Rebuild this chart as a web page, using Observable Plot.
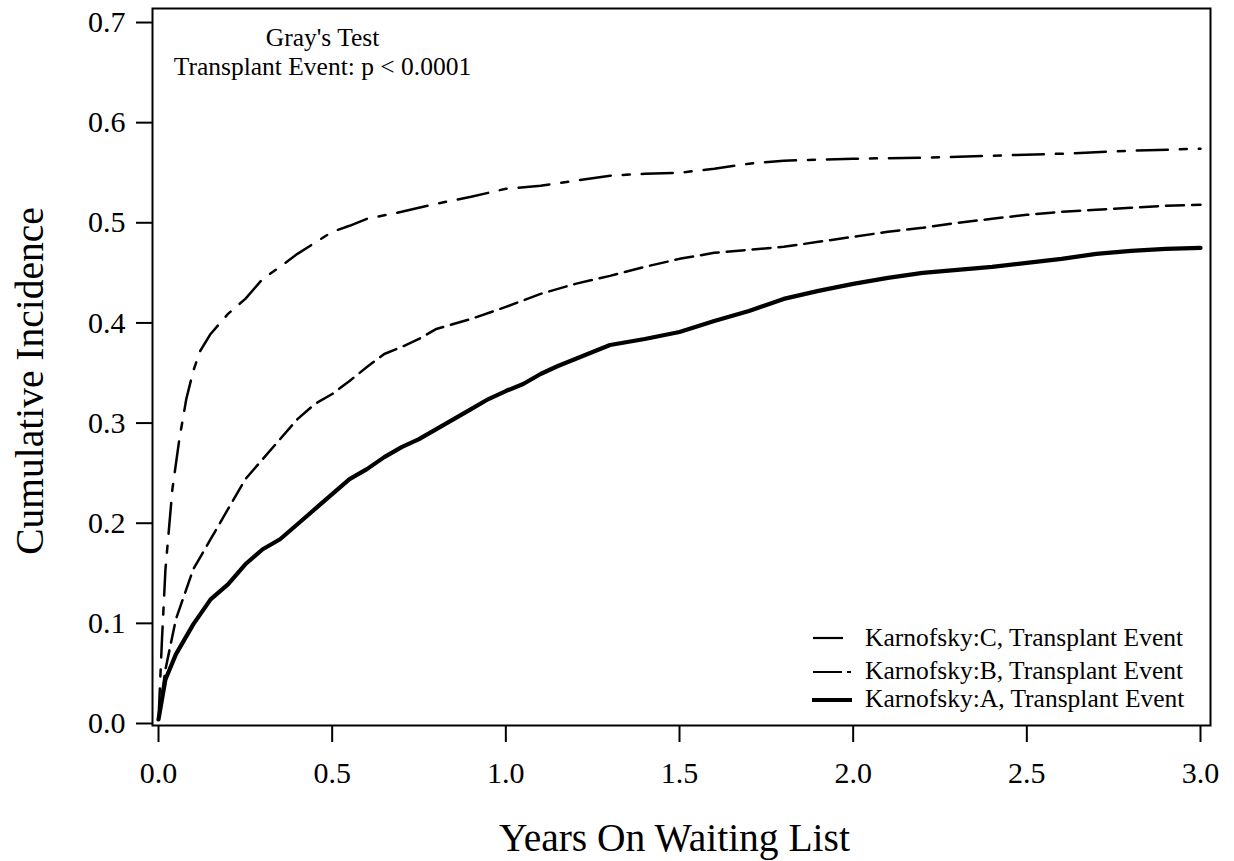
<!DOCTYPE html>
<html>
<head>
<meta charset="utf-8">
<script src="https://cdn.jsdelivr.net/npm/d3@7"></script>
<script src="https://cdn.jsdelivr.net/npm/@observablehq/plot@0.6"></script>
<style>
  html, body { margin: 0; padding: 0; background: #fff; }
  #chart { position: relative; width: 1234px; height: 861px; }
  svg { font-family: "Liberation Serif", "Times New Roman", serif; }
</style>
</head>
<body>
<div id="chart"></div>
<script>
// ---- Data ----
// Karnofsky:A (thick solid, lowest curve)
const yearsA = [0, 0.01, 0.02, 0.05, 0.1, 0.15, 0.2, 0.25, 0.3, 0.35, 0.4, 0.45, 0.5, 0.55, 0.6, 0.65, 0.7, 0.75, 0.8, 0.85, 0.9, 0.95, 1.0, 1.05, 1.1, 1.15, 1.2, 1.25, 1.3, 1.4, 1.5, 1.6, 1.7, 1.8, 1.9, 2.0, 2.1, 2.2, 2.3, 2.4, 2.5, 2.6, 2.7, 2.8, 2.9, 3.0];
const incidenceA = [0, 0.02, 0.04, 0.065, 0.095, 0.12, 0.135, 0.155, 0.17, 0.18, 0.195, 0.21, 0.225, 0.24, 0.25, 0.262, 0.272, 0.28, 0.29, 0.30, 0.31, 0.32, 0.328, 0.335, 0.345, 0.353, 0.36, 0.367, 0.374, 0.38, 0.387, 0.398, 0.408, 0.42, 0.428, 0.435, 0.441, 0.446, 0.449, 0.452, 0.456, 0.46, 0.465, 0.468, 0.47, 0.471];
// Karnofsky:B (dashed, middle curve)
const yearsB = [0, 0.02, 0.05, 0.1, 0.15, 0.2, 0.25, 0.3, 0.35, 0.4, 0.45, 0.5, 0.55, 0.6, 0.65, 0.7, 0.75, 0.8, 0.9, 1.0, 1.1, 1.2, 1.3, 1.4, 1.5, 1.6, 1.7, 1.8, 1.9, 2.0, 2.1, 2.2, 2.3, 2.4, 2.5, 2.6, 2.7, 2.8, 2.9, 3.0];
const incidenceB = [0, 0.05, 0.1, 0.15, 0.18, 0.21, 0.24, 0.26, 0.28, 0.30, 0.315, 0.325, 0.338, 0.352, 0.365, 0.372, 0.38, 0.39, 0.40, 0.412, 0.425, 0.435, 0.443, 0.452, 0.46, 0.466, 0.469, 0.472, 0.477, 0.482, 0.487, 0.491, 0.496, 0.50, 0.504, 0.507, 0.509, 0.511, 0.513, 0.514];
// Karnofsky:C (dash-dot, highest curve)
const yearsC = [0, 0.01, 0.02, 0.04, 0.06, 0.08, 0.1, 0.12, 0.15, 0.2, 0.25, 0.3, 0.35, 0.4, 0.45, 0.5, 0.55, 0.6, 0.7, 0.8, 0.9, 1.0, 1.1, 1.2, 1.3, 1.4, 1.5, 1.6, 1.7, 1.8, 2.0, 2.2, 2.4, 2.6, 2.8, 3.0];
const incidenceC = [0, 0.08, 0.15, 0.23, 0.28, 0.32, 0.348, 0.368, 0.385, 0.405, 0.42, 0.44, 0.452, 0.465, 0.476, 0.487, 0.493, 0.50, 0.507, 0.515, 0.522, 0.53, 0.533, 0.538, 0.543, 0.545, 0.546, 0.55, 0.555, 0.558, 0.56, 0.561, 0.563, 0.565, 0.568, 0.57];

const xTicks = [0, 0.5, 1.0, 1.5, 2.0, 2.5, 3.0];
const yTicks = [0, 0.1, 0.2, 0.3, 0.4, 0.5, 0.6, 0.7];
const seriesLabels = ["Karnofsky:C, Transplant Event", "Karnofsky:B, Transplant Event", "Karnofsky:A, Transplant Event"];
const annotationLines = ["Gray's Test", "Transplant Event: p < 0.0001"];
const xTitle = "Years On Waiting List";
const yTitle = "Cumulative Incidence";

const zip = (ts, vs) => ts.map((t, i) => ({t, v: vs[i]}));
const dataA = zip(yearsA, incidenceA);
const dataB = zip(yearsB, incidenceB);
const dataC = zip(yearsC, incidenceC);

const chart = Plot.plot({
  width: 1234,
  height: 861,
  marginLeft: 152,
  marginRight: 24,
  marginTop: 8,
  marginBottom: 136,
  style: {fontFamily: "'Liberation Serif', 'Times New Roman', serif", background: "#fff", color: "#000"},
  x: {domain: [-0.0173, 3.0288]},
  y: {domain: [-0.006, 0.710]},
  marks: [
    Plot.axisX({ticks: xTicks, tickFormat: d3.format(".1f"), tickSize: 17, tickPadding: 19, fontSize: 30, label: null, strokeWidth: 2}),
    Plot.axisY({ticks: yTicks, tickFormat: d3.format(".1f"), tickSize: 16, tickPadding: 11, fontSize: 30, label: null, strokeWidth: 2, dy: 4}),
    Plot.frame({stroke: "#000", strokeWidth: 2}),
    Plot.line(dataC, {x: "t", y: "v", stroke: "#000", strokeWidth: 2.5, strokeDasharray: "31,12,7,12"}),
    Plot.line(dataB, {x: "t", y: "v", stroke: "#000", strokeWidth: 2.5, strokeDasharray: "18,8"}),
    Plot.line(dataA, {x: "t", y: "v", stroke: "#000", strokeWidth: 4.2}),
    Plot.text([annotationLines.join("\n")], {frameAnchor: "top-left", text: d => d, dx: 170, dy: 17, lineAnchor: "top", textAnchor: "middle", fontSize: 25.5, lineHeight: 1.14, fill: "#000"}),
    Plot.text([xTitle], {frameAnchor: "bottom", text: d => d, dx: -7, dy: 125, lineAnchor: "bottom", textAnchor: "middle", fontSize: 39.5, fill: "#000"}),
    Plot.text([yTitle], {frameAnchor: "left", text: d => d, rotate: -90, dx: -110, dy: 14, lineAnchor: "bottom", textAnchor: "middle", fontSize: 39.5, fill: "#000"})
  ]
});

// Legend drawn into the SVG, bottom-right inside the frame
const svg = d3.select(chart);
const lg = svg.append("g").attr("font-size", 25.5).attr("fill", "#000").attr("text-anchor", "start");
const legendRows = [
  {label: seriesLabels[0], ly: 638, ty: 646, width: 2.2, dash: null, x1: 813, x2: 843},
  {label: seriesLabels[1], ly: 672, ty: 679, width: 2.2, dash: "29,5,4,40", x1: 813, x2: 851},
  {label: seriesLabels[2], ly: 700, ty: 707, width: 4.2, dash: null, x1: 812, x2: 852}
];
legendRows.forEach(r => {
  lg.append("line").attr("x1", r.x1).attr("x2", r.x2).attr("y1", r.ly).attr("y2", r.ly)
    .attr("stroke", "#000").attr("stroke-width", r.width).attr("stroke-dasharray", r.dash);
  lg.append("text").attr("x", 865).attr("y", r.ty).attr("text-anchor", "start").text(r.label);
});

document.getElementById("chart").appendChild(chart);
</script>
</body>
</html>
